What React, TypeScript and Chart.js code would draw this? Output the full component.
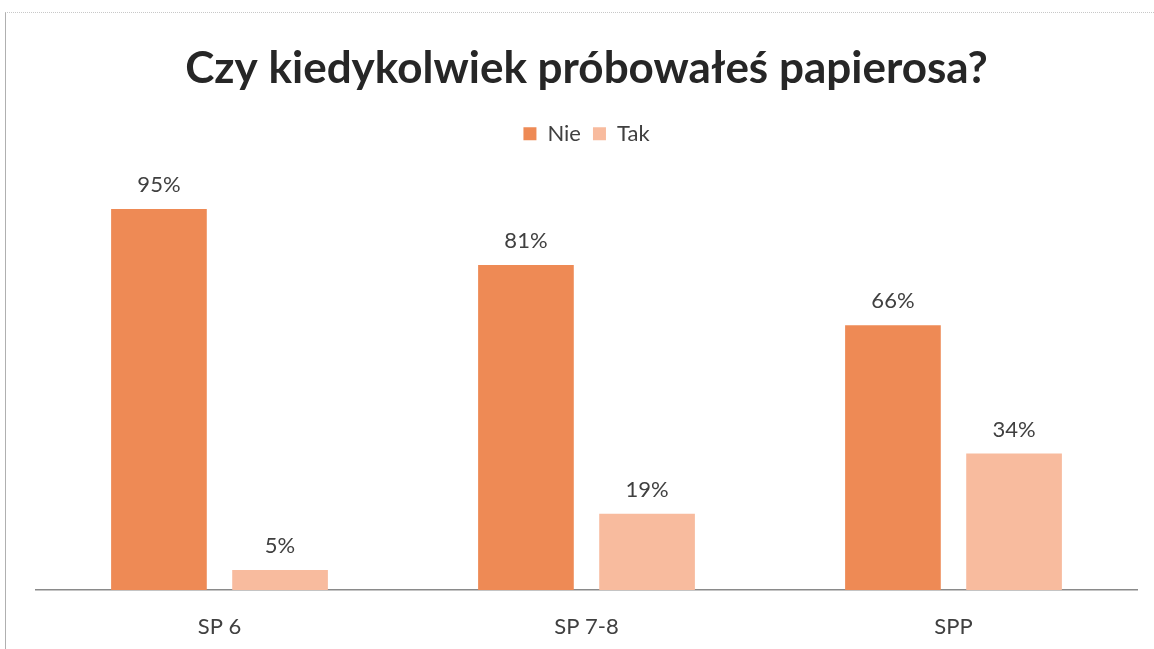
import React, { useEffect, useRef } from "react";
import { Chart, registerables } from "chart.js";

Chart.register(...registerables);

const categories = ["SP 6", "SP 7-8", "SPP"];
const nieValues = [95, 81, 66];
const takValues = [5, 19, 34];
const seriesNames = ["Nie", "Tak"];
const titleText = "Czy kiedykolwiek próbowałeś papierosa?";

const valueLabels = {
  id: "valueLabels",
  afterDatasetsDraw(chart: any) {
    const ctx = chart.ctx;
    ctx.save();
    ctx.font = "22px Lato";
    ctx.fillStyle = "#404040";
    ctx.textAlign = "center";
    ctx.textBaseline = "middle";
    chart.data.datasets.forEach((ds: any, i: number) => {
      const meta = chart.getDatasetMeta(i);
      meta.data.forEach((bar: any, j: number) => {
        ctx.fillText(ds.data[j] + "%", bar.x, bar.y - 24);
      });
    });
    ctx.restore();
  },
};

export default function App() {
  const ref = useRef<HTMLCanvasElement>(null);
  useEffect(() => {
    document.body.style.margin = "0";
    const chart = new Chart(ref.current!, {
      type: "bar",
      data: {
        labels: categories,
        datasets: [
          { label: seriesNames[0], data: nieValues, backgroundColor: "#EE8A55" },
          { label: seriesNames[1], data: takValues, backgroundColor: "#F8BB9E" },
        ],
      },
      options: {
        animation: false,
        responsive: false,
        layout: { padding: { left: 36, right: 17, top: 0, bottom: 10 } },
        datasets: { bar: { categoryPercentage: 0.66, barPercentage: 0.79 } },
        plugins: {
          title: {
            display: true,
            text: titleText,
            color: "#262626",
            font: { family: "Lato", size: 44, weight: "bold" },
            padding: { top: 42, bottom: 16 },
          },
          legend: {
            display: true,
            labels: {
              boxWidth: 13,
              boxHeight: 13,
              color: "#404040",
              font: { family: "Lato", size: 22 },
              padding: 12,
            },
          },
          tooltip: { enabled: false },
        },
        scales: {
          x: {
            afterFit: (scale: any) => {
              scale.height = 49;
            },
            grid: { display: false, drawTicks: false },
            border: { display: true, color: "#8a8a8a", width: 1.5 },
            ticks: { color: "#404040", font: { family: "Lato", size: 22 }, padding: 24 },
          },
          y: { display: false, min: 0, max: 108.5 },
        },
      },
      plugins: [valueLabels],
    });
    return () => chart.destroy();
  }, []);
  return (
    <div style={{ position: "absolute", left: 0, top: 0, width: 1154, height: 649, background: "#fff" }}>
      <div
        style={{
          position: "absolute",
          left: 5,
          top: 12,
          right: 0,
          bottom: 0,
          borderLeft: "1px solid #b0b0b0",
          borderTop: "1px dotted #c8c8c8",
        }}
      />
      <canvas ref={ref} width={1154} height={649} style={{ position: "absolute", left: 0, top: 0 }} />
    </div>
  );
}
